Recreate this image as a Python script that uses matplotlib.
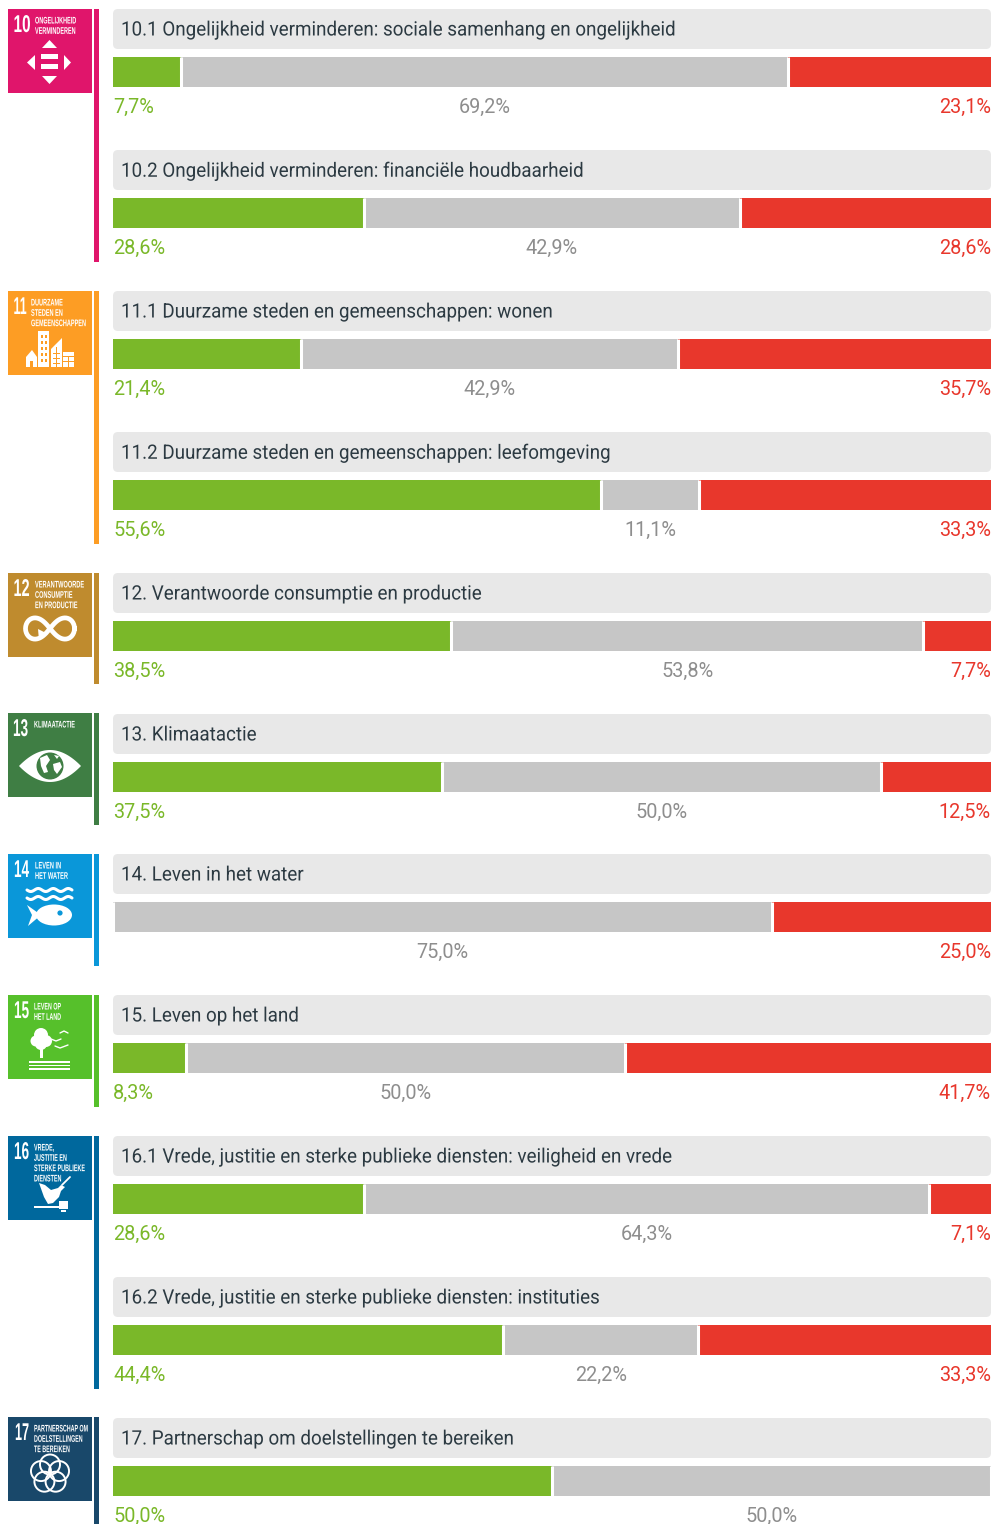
#!/usr/bin/env python3
import numpy as np
import matplotlib
matplotlib.use('Agg')
import matplotlib.pyplot as plt
from matplotlib.patches import Circle, Ellipse, FancyBboxPatch, Polygon, Rectangle
from matplotlib.patheffects import AbstractPathEffect
from matplotlib.transforms import Affine2D

titles = [
    '10.1 Ongelijkheid verminderen: sociale samenhang en ongelijkheid',
    '10.2 Ongelijkheid verminderen: financiële houdbaarheid',
    '11.1 Duurzame steden en gemeenschappen: wonen',
    '11.2 Duurzame steden en gemeenschappen: leefomgeving',
    '12. Verantwoorde consumptie en productie',
    '13. Klimaatactie',
    '14. Leven in het water',
    '15. Leven op het land',
    '16.1 Vrede, justitie en sterke publieke diensten: veiligheid en vrede',
    '16.2 Vrede, justitie en sterke publieke diensten: instituties',
    '17. Partnerschap om doelstellingen te bereiken',
]
green = [7.7, 28.6, 21.4, 55.6, 38.5, 37.5, 0.0, 8.3, 28.6, 44.4, 50.0]
grey = [69.2, 42.9, 42.9, 11.1, 53.8, 50.0, 75.0, 50.0, 64.3, 22.2, 50.0]
red = [23.1, 28.6, 35.7, 33.3, 7.7, 12.5, 25.0, 41.7, 7.1, 33.3, 0.0]

goals = ['10', '11', '12', '13', '14', '15', '16', '17']
goal_names = [
    'ONGELIJKHEID\nVERMINDEREN',
    'DUURZAME\nSTEDEN EN\nGEMEENSCHAPPEN',
    'VERANTWOORDE\nCONSUMPTIE\nEN PRODUCTIE',
    'KLIMAATACTIE',
    'LEVEN IN\nHET WATER',
    'LEVEN OP\nHET LAND',
    'VREDE,\nJUSTITIE EN\nSTERKE PUBLIEKE\nDIENSTEN',
    'PARTNERSCHAP OM\nDOELSTELLINGEN\nTE BEREIKEN',
]
goal_colors = ['#e0156b', '#fd9d24', '#bf8b2e', '#3f7e44', '#0a97d9', '#56c02b', '#00689d', '#19486a']

W, H = 993, 1524
GREEN, GREY, RED = '#7ab829', '#c6c6c6', '#e8372c'
GREY_TXT = '#8e8e8e'
row_tops = [9, 150, 291, 432, 573, 714, 854, 995, 1136, 1277, 1418]
goal_tops = [9, 291, 573, 713, 854, 995, 1136, 1417]
goal_ends = [262, 544, 684, 825, 966, 1107, 1389, 1524]
num_right = [30.5, 26.5, 29.5, 28, 29, 29, 29, 29]
num_w = [17, 13, 16, 15, 15, 15, 15, 14]
name_x = [35, 31, 35, 34, 35, 34, 34, 34]
name_w = [41, 55, 49, 41, 33, 27, 51, 54]

plt.rcParams['font.family'] = ['Roboto', 'DejaVu Sans']

fig = plt.figure(figsize=(W / 100, H / 100), dpi=100, facecolor='white')
bg = fig.add_axes([0, 0, 1, 1])
bg.set_xlim(0, W)
bg.set_ylim(H, 0)
bg.axis('off')


class Squeeze(AbstractPathEffect):
    # smaller glyphs sideways, the font has no condensed cut
    def __init__(self, x0, sx):
        self.x0 = x0
        self.sx = sx

    def draw_path(self, renderer, gc, tpath, affine, rgbFace=None):
        squeeze = Affine2D().translate(-self.x0, 0).scale(self.sx, 1).translate(self.x0, 0)
        renderer.draw_path(gc, tpath, affine + squeeze, rgbFace)


def narrow_text(x, y, s, width, **kw):
    t = bg.text(x, y, s, color='white', family='Liberation Sans', fontweight='bold', zorder=4, **kw)
    ext = t.get_window_extent(fig.canvas.get_renderer())
    t.set_path_effects([Squeeze(bg.transData.transform((x, y))[0], width / ext.width)])
    return t


def poly(pts, ox, oy, color='white', z=4):
    bg.add_patch(Polygon([(ox + a, oy + b) for a, b in pts], closed=True, fc=color, ec='none', zorder=z))


def rect(x, y, w, h, ox, oy, color='white', z=4):
    bg.add_patch(Rectangle((ox + x, oy + y), w, h, fc=color, ec='none', zorder=z))


def line(xs, ys, ox, oy, lw=1.5, color='white', z=4):
    bg.plot(np.asarray(xs) + ox, np.asarray(ys) + oy, color=color, lw=lw, zorder=z, solid_capstyle='round')


def icon_10(ox, oy, c):
    poly([(41.5, 31), (49, 39), (34, 39)], ox, oy)
    poly([(41.5, 75), (49, 67), (34, 67)], ox, oy)
    poly([(19, 53.5), (27, 46), (27, 61)], ox, oy)
    poly([(63, 53.5), (56, 46), (56, 61)], ox, oy)
    rect(33, 45, 17, 5, ox, oy)
    rect(33, 55, 17, 5, ox, oy)


def icon_11(ox, oy, c):
    rect(30, 40, 11, 36, ox, oy)
    poly([(43, 76), (43, 58), (54, 47), (54, 76)], ox, oy)
    rect(55, 61, 11, 15, ox, oy)
    poly([(18, 66), (24, 59), (29, 66), (29, 76), (18, 76)], ox, oy)
    for yy in (44, 50, 56, 62, 68):
        rect(33, yy, 2, 3, ox, oy, c, 5)
        rect(37, yy, 2, 3, ox, oy, c, 5)
    for yy in (62, 67, 72):
        rect(45, yy, 7, 1, ox, oy, c, 5)
    rect(48, 56, 1, 20, ox, oy, c, 5)
    rect(55, 65, 11, 1, ox, oy, c, 5)
    rect(60, 65, 1, 11, ox, oy, c, 5)
    rect(55, 70, 11, 1, ox, oy, c, 5)
    rect(22, 70, 3, 6, ox, oy, c, 5)


def icon_12(ox, oy, c):
    t = np.radians(np.arange(0, 361, 4))
    d = 1 + np.sin(t) ** 2
    bg.plot(ox + 42 + 24.5 * np.cos(t) / d, oy + 55.5 + 30 * np.sin(t) * np.cos(t) / d,
            color='white', lw=3.4, zorder=4)
    poly([(30, 56), (40, 61), (31, 67)], ox, oy)


def icon_13(ox, oy, c):
    t = np.linspace(-1, 1, 60)
    xs = 42 + 31 * t
    ys = 16 * (1 - t ** 2)
    poly(list(zip(xs, 53 - ys)) + list(zip(xs[::-1], 53 + ys[::-1])), ox, oy)
    bg.add_patch(Circle((ox + 42, oy + 53), 13.5, fc=c, ec='none', zorder=5))
    poly([(32, 45), (39, 42), (42, 47), (38, 53), (40, 59), (36, 60), (33, 53)], ox, oy, 'white', 6)
    poly([(45, 51), (52, 49), (54, 54), (49, 61), (46, 57)], ox, oy, 'white', 6)
    poly([(46, 42), (51, 43), (49, 46)], ox, oy, 'white', 6)


def icon_14(ox, oy, c):
    t = np.linspace(0, 45, 80)
    for yy in (36, 44):
        line(19 + t, yy + 1.5 * np.sin(t * 2 * np.pi / 15), ox, oy, lw=2.2)
    bg.add_patch(Ellipse((ox + 46, oy + 61), 36, 21, fc='white', ec='none', zorder=4))
    poly([(19, 51), (33, 61), (20, 72), (24, 61)], ox, oy)
    bg.add_patch(Circle((ox + 52, oy + 59), 2.6, fc=c, ec='none', zorder=5))


def icon_15(ox, oy, c):
    for a, b, r in [(33, 40, 7), (28, 46, 5.5), (38, 46, 6), (33, 49, 6)]:
        bg.add_patch(Circle((ox + a, oy + b), r, fc='white', ec='none', zorder=4))
    rect(32, 54, 3, 9, ox, oy)
    rect(21, 66, 41, 1.5, ox, oy)
    rect(21, 69.5, 41, 1.5, ox, oy)
    rect(21, 73, 41, 1.5, ox, oy)
    line([43, 48, 53], [44, 46, 44], ox, oy, lw=1)
    line([52, 56, 60], [38, 36, 38], ox, oy, lw=1)
    line([47, 52, 60], [51, 53, 50], ox, oy, lw=1)


def icon_16(ox, oy, c):
    poly([(31, 47), (37, 49), (43, 54), (50, 52), (53, 49), (57, 51), (53, 55),
          (51, 61), (45, 67), (40, 68), (36, 61)], ox, oy)
    line([54, 58, 62], [49, 45, 41], ox, oy, lw=1.3)
    rect(26, 70, 25, 2, ox, oy)
    rect(51, 65, 9, 8, ox, oy)
    rect(53, 74, 5, 2, ox, oy)


def icon_17(ox, oy, c):
    for a in np.radians(np.arange(-90, 270, 72)):
        bg.add_patch(Circle((ox + 42 + 9.5 * np.cos(a), oy + 57 + 9.5 * np.sin(a)), 10,
                            fc='none', ec='white', lw=1.4, zorder=4))


icons = [icon_10, icon_11, icon_12, icon_13, icon_14, icon_15, icon_16, icon_17]

for i, goal in enumerate(goals):
    top, col = goal_tops[i], goal_colors[i]
    bg.add_patch(Rectangle((8, top), 84, 84, fc=col, ec='none', zorder=2))
    bg.add_patch(Rectangle((94, top), 5, goal_ends[i] - top, fc=col, ec='none', zorder=2))
    narrow_text(num_right[i], top + 16.5, goal, num_w[i], fontsize=17.5, va='center', ha='right')
    narrow_text(name_x[i], top + 6.5, goal_names[i], name_w[i], fontsize=6.9, va='top', ha='left', linespacing=1.04)
    icons[i](8, top, col)


def pct(v):
    return f'{v:.1f}%'.replace('.', ',')


for i, title in enumerate(titles):
    top = row_tops[i]
    bg.add_patch(FancyBboxPatch((113 + 5, top + 5), 878 - 10, 40 - 10, boxstyle='round,pad=5,rounding_size=5',
                                fc='#e8e8e8', ec='none', zorder=2))
    tx = bg.text(121, top + 21, title, color='#2c3a42', fontsize=14.3, ha='left', va='center', zorder=3)
    tx.set_path_effects([Squeeze(bg.transData.transform((121, 0))[0], 0.947)])

    ax = fig.add_axes([113 / W, 1 - (top + 78) / H, 878 / W, 30 / H])
    ax.set_xlim(0, 100)
    ax.set_ylim(-0.5, 0.5)
    ax.axis('off')
    vals = [green[i], grey[i], red[i]]
    vals = [v * 100 / sum(vals) for v in vals]
    starts = np.cumsum([0] + vals[:-1])
    ax.barh(0, vals, left=starts, height=1, color=[GREEN, GREY, RED])
    ax.vlines(starts[1:], -0.5, 0.5, color='white', lw=2.2, zorder=3)

    txt = dict(fontsize=14.3, va='center', annotation_clip=False, xytext=(0, -20), textcoords='offset pixels')
    if green[i] > 0:
        ax.annotate(pct(green[i]), xy=(0, -0.5), color=GREEN, ha='left', **txt)
    ax.annotate(pct(grey[i]), xy=(starts[1] + vals[1] / 2, -0.5), color=GREY_TXT, ha='center', **txt)
    if red[i] > 0:
        ax.annotate(pct(red[i]), xy=(100, -0.5), color=RED, ha='right', **txt)

fig.savefig('out.png', dpi=100)
